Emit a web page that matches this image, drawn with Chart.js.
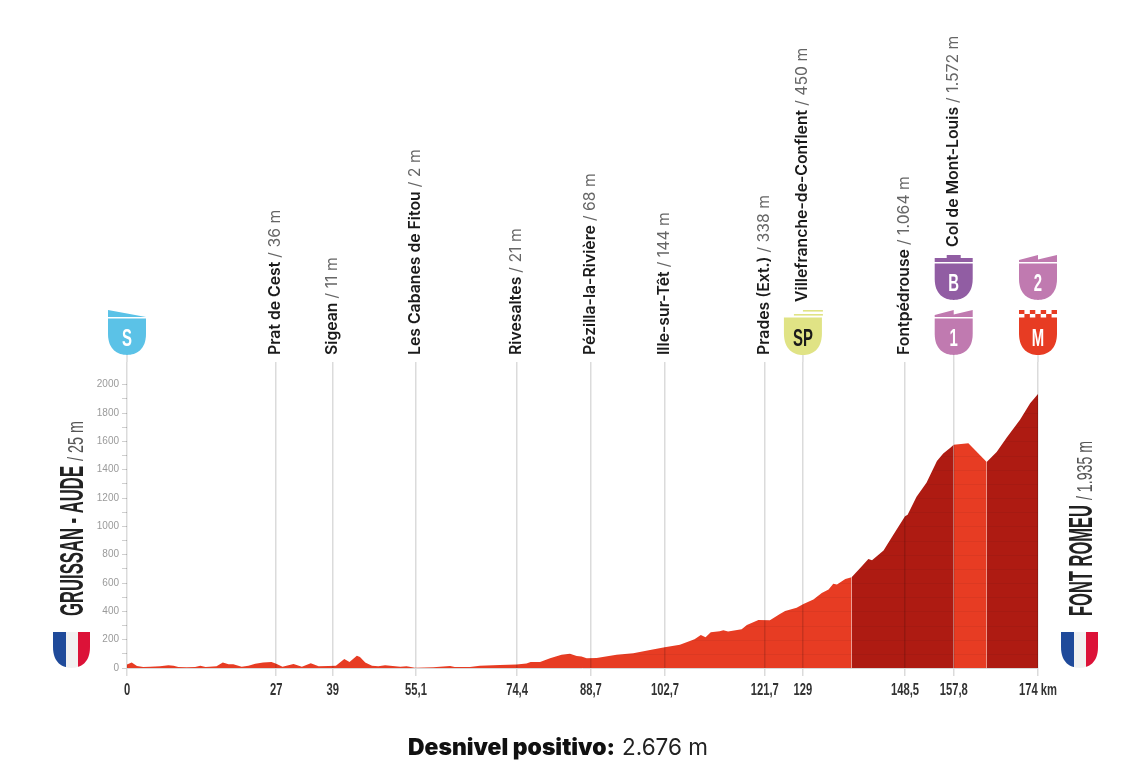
<!DOCTYPE html>
<html lang="es">
<head>
<meta charset="utf-8">
<title>Gruissan - Font Romeu</title>
<script src="https://cdn.jsdelivr.net/npm/chart.js@4/dist/chart.umd.min.js"></script>
<style>
  html, body { margin: 0; padding: 0; background: #fff; }
  canvas { display: block; }
</style>
</head>
<body>
<canvas id="perfil" width="1137" height="769"></canvas>
<script>
// profile
const profileKm = [0, 0.9, 1.9, 3.1, 4.4, 6.3, 7.9, 8.9, 9.8, 11.4, 13, 14, 15, 17.1, 18.3, 19.4, 20.3, 21.9, 23.2, 24.5, 26, 27.6, 28.5, 29.7, 31.8, 33.4, 35.1, 36.6, 38.5, 39.9, 41.5, 42.5, 43.9, 44.5, 45.5, 46.8, 48, 49.3, 52.2, 53.4, 55, 58.5, 61.7, 62.6, 65.5, 67.4, 71.2, 74.4, 76.3, 77.1, 78.9, 80.8, 83, 84.6, 85.9, 86.8, 87.8, 89.7, 93.5, 96.7, 99.9, 102.7, 105.6, 108.4, 109.6, 110.5, 111.5, 113.2, 113.9, 114.8, 117.4, 118.4, 120.6, 122.8, 124.7, 125.7, 127.9, 129.2, 131.1, 132.7, 134, 134.9, 135.6, 137.2, 138.4, 140, 141.6, 142.3, 144.5, 146.4, 148.6, 149.1, 150.8, 152.7, 154.7, 155.9, 157.2, 157.9, 160.7, 164.2, 166.1, 168, 170.6, 172.5, 174];
const profileM = [25, 38, 14, 7, 9, 12, 19, 16, 7, 5, 7, 16, 7, 12, 38, 26, 26, 9, 16, 30, 38, 42, 30, 9, 28, 9, 33, 12, 14, 16, 64, 42, 87, 78, 38, 16, 12, 19, 9, 12, 2, 5, 14, 7, 7, 16, 21, 24, 31, 42, 42, 68, 94, 101, 85, 82, 68, 71, 94, 104, 127, 146, 165, 203, 233, 217, 252, 259, 266, 257, 273, 304, 339, 337, 382, 403, 426, 452, 483, 530, 554, 594, 589, 629, 641, 704, 770, 761, 829, 942, 1072, 1081, 1209, 1308, 1461, 1515, 1553, 1576, 1586, 1454, 1524, 1626, 1755, 1868, 1935];

// km ranges painted dark
const darkFrom = [138.4, 164.2];
const darkTo = [157.9, 174];

const tickKm = [0, 28.5, 39.3, 55.2, 74.5, 88.6, 102.75, 121.8, 129.1, 148.6, 157.9, 174];
const tickLabels = ["0", "27", "39", "55,1", "74,4", "88,7", "102,7", "121,7", "129", "148,5", "157,8", "174 km"];
const altitudeTicks = [0, 100, 200, 300, 400, 500, 600, 700, 800, 900, 1000, 1100, 1200, 1300, 1400, 1500, 1600, 1700, 1800, 1900, 2000];

const placeKm = [28.5, 39.3, 55.2, 74.5, 88.6, 102.75, 121.8, 129.1, 148.6, 157.9];
const placeNames = ["Prat de Cest", "Sigean", "Les Cabanes de Fitou", "Rivesaltes", "Pézilla-la-Rivière", "Ille-sur-Têt", "Prades (Ext.)", "Villefranche-de-Conflent", "Fontpédrouse", "Col de Mont-Louis"];
const placeHeights = ["36 m", "11 m", "2 m", "21 m", "68 m", "144 m", "338 m", "450 m", "1.064 m", "1.572 m"];

const ROJO = "#e73c23";
const ROJO_OSCURO = "#ae1b12";
const LINEA = "rgba(0,0,0,0.14)";
const NARROW = '"Liberation Sans", sans-serif';
const TEXTO = 'Inter, "Liberation Sans", sans-serif';

function esOscuro(km) {
    return darkFrom.some((desde, i) => km >= desde && km < darkTo[i]);
}

/* =========================
   ESCUDOS
   ========================= */
function caminoEscudo(ctx, cx, top, bottom, ancho) {
    const l = cx - ancho / 2, r = cx + ancho / 2;
    const curva = top + (bottom - top) * 0.42;
    ctx.beginPath();
    ctx.moveTo(l, top);
    ctx.lineTo(r, top);
    ctx.lineTo(r, curva);
    ctx.bezierCurveTo(r, bottom - 5, cx + 9, bottom, cx, bottom);
    ctx.bezierCurveTo(cx - 9, bottom, l, bottom - 5, l, curva);
    ctx.closePath();
}

function polygon(ctx, pts, color) {
    ctx.fillStyle = color;
    ctx.beginPath();
    pts.forEach((p, i) => i ? ctx.lineTo(p[0], p[1]) : ctx.moveTo(p[0], p[1]));
    ctx.closePath();
    ctx.fill();
}

function letra(ctx, txt, cx, cy, color) {
    ctx.save();
    ctx.translate(cx, cy);
    ctx.scale(0.62, 1);
    ctx.font = "bold 24px " + NARROW;
    ctx.fillStyle = color;
    ctx.textAlign = "center";
    ctx.textBaseline = "middle";
    ctx.fillText(txt, 0, 1);
    ctx.restore();
}

function escudo(ctx, tipo, txt, cx, top, color, colorTxt) {
    const l = cx - 19, r = cx + 19;
    const cuerpo = top + 8.5;
    if (tipo === "salida") {
        polygon(ctx, [[l, top], [r, top + 7], [l, top + 7]], color);
    } else if (tipo === "puerto") {
        polygon(ctx, [[l, top + 7], [l, top + 5], [cx, top], [cx, top + 4.5], [r, top], [r, top + 7]], color);
    } else if (tipo === "bonus") {
        ctx.fillStyle = color;
        ctx.fillRect(l, top + 3, 38, 4);
        ctx.fillRect(cx - 7, top, 14, 3);
    } else if (tipo === "sprint") {
        ctx.fillStyle = color;
        ctx.fillRect(cx, top, 20, 1.6);
        ctx.fillRect(cx - 9, top + 4, 29, 1.6);
    } else if (tipo === "meta") {
        ctx.fillStyle = color;
        for (let i = 0; i < 7; i++) {
            ctx.fillRect(l + i * 38 / 7, i % 2 ? top + 4 : top, 38 / 7, 4);
        }
    }
    caminoEscudo(ctx, cx, tipo === "meta" || tipo === "sprint" ? top + 7.5 : cuerpo, top + 45, 38);
    ctx.fillStyle = color;
    ctx.fill();
    letra(ctx, txt, cx, top + 28, colorTxt);
}

function bandera(ctx, l) {
    ctx.save();
    caminoEscudo(ctx, l + 18.5, 632, 668, 37);
    ctx.clip();
    ctx.fillStyle = "#1f4a9a";
    ctx.fillRect(l, 632, 13, 36);
    ctx.fillStyle = "#f1f1f1";
    ctx.fillRect(l + 13, 632, 12, 36);
    ctx.fillStyle = "#dc1238";
    ctx.fillRect(l + 25, 632, 12, 36);
    ctx.restore();
}

// text squeezed to a given width, to get the condensed look of the original
function apretado(ctx, txt, x, y, ancho) {
    const w = ctx.measureText(txt).width;
    ctx.save();
    ctx.translate(x, y);
    ctx.scale(ancho / w, 1);
    ctx.fillText(txt, 0, 0);
    ctx.restore();
}

function nombreVertical(ctx, nombre, altura, x, y, anchoNombre, anchoAltura) {
    ctx.save();
    ctx.translate(x, y);
    ctx.rotate(-Math.PI / 2);
    ctx.textBaseline = "alphabetic";
    ctx.textAlign = "left";
    ctx.font = "bold 34px " + NARROW;
    ctx.fillStyle = "#222";
    apretado(ctx, nombre, 0, 0, anchoNombre);
    ctx.font = "22px " + NARROW;
    ctx.fillStyle = "#555";
    apretado(ctx, altura, anchoNombre + 5, 0, anchoAltura);
    ctx.restore();
}

/* =========================
   PLUGINS
   ========================= */
const rayasPlugin = {
    id: "rayas",
    afterDatasetsDraw(chart) {
        // faint altitude stripes, only where the profile already painted
        const { ctx, chartArea, scales } = chart;
        ctx.save();
        ctx.globalCompositeOperation = "source-atop";
        ctx.strokeStyle = "rgba(0,0,0,0.05)";
        ctx.lineWidth = 1;
        altitudeTicks.forEach(v => {
            const y = Math.round(scales.y.getPixelForValue(v)) + 0.5;
            ctx.beginPath();
            ctx.moveTo(chartArea.left, y);
            ctx.lineTo(chartArea.right, y);
            ctx.stroke();
        });
        ctx.restore();
    }
};

const rotulosPlugin = {
    id: "rotulos",
    afterDraw(chart) {
        const { ctx, scales, chartArea } = chart;
        const px = km => scales.x.getPixelForValue(km);

        // stems that join the badges to the grid lines
        ctx.save();
        ctx.strokeStyle = LINEA;
        ctx.lineWidth = 1.5;
        [0, 129.1, 157.9, 174].forEach(km => {
            ctx.beginPath();
            ctx.moveTo(px(km), 350);
            ctx.lineTo(px(km), chartArea.top);
            ctx.stroke();
        });
        ctx.restore();

        // km labels, condensed
        ctx.save();
        ctx.font = "bold 16.5px " + NARROW;
        ctx.fillStyle = "#333";
        ctx.textBaseline = "middle";
        ctx.textAlign = "left";
        tickLabels.forEach((txt, i) => {
            const w = ctx.measureText(txt).width * 0.68;
            apretado(ctx, txt, px(tickKm[i]) - w / 2, 690, w);
        });
        ctx.restore();

        // place names, rotated
        placeNames.forEach((nombre, i) => {
            let base = 355;
            if (nombre.startsWith("Villefranche")) base = 302;
            if (nombre.startsWith("Col de")) base = 247;
            ctx.save();
            ctx.translate(px(placeKm[i]) + 4, base);
            ctx.rotate(-Math.PI / 2);
            ctx.textBaseline = "alphabetic";
            ctx.textAlign = "left";
            ctx.font = "600 15.8px " + TEXTO;
            ctx.fillStyle = "#1a1a1a";
            ctx.fillText(nombre, 0, 0);
            const w = ctx.measureText(nombre).width;
            ctx.font = "400 15.8px " + TEXTO;
            ctx.fillStyle = "#666";
            ctx.fillText("/ " + placeHeights[i], w + 4, 0);
            ctx.restore();
        });

        escudo(ctx, "salida", "S", px(0), 310, "#5bc2e7", "#fff");
        escudo(ctx, "sprint", "SP", px(129.1), 310, "#e0e385", "#1a1a1a");
        escudo(ctx, "puerto", "1", px(157.9), 310, "#c07ab0", "#fff");
        escudo(ctx, "bonus", "B", px(157.9), 255, "#915da3", "#fff");
        escudo(ctx, "puerto", "2", px(174), 255, "#c07ab0", "#fff");
        escudo(ctx, "meta", "M", px(174), 310, ROJO, "#fff");

        bandera(ctx, 53);
        bandera(ctx, 1061);

        nombreVertical(ctx, "GRUISSAN - AUDE", "/ 25 m", 83, 616, 150, 40);
        nombreVertical(ctx, "FONT ROMEU", "/ 1.935 m", 1092, 616, 111, 59);

        // climbing total
        ctx.save();
        ctx.textBaseline = "alphabetic";
        ctx.textAlign = "left";
        ctx.font = "900 22.5px " + TEXTO;
        ctx.fillStyle = "#111";
        const rotulo = "Desnivel positivo:";
        apretado(ctx, rotulo, 408, 755, 207);
        ctx.font = "400 23px " + TEXTO;
        ctx.fillStyle = "#222";
        apretado(ctx, "2.676 m", 622, 755, 86);
        ctx.restore();
    }
};

/* =========================
   GRAFICO
   ========================= */
new Chart(document.getElementById("perfil").getContext("2d"), {
    type: "line",
    data: {
        datasets: [{
            label: "Altitud",
            data: profileKm.map((km, i) => ({ x: km, y: profileM[i] })),
            fill: "origin",
            backgroundColor: ROJO,
            borderWidth: 0,
            pointRadius: 0,
            tension: 0,
            segment: {
                backgroundColor: c => esOscuro(c.p0.parsed.x) ? ROJO_OSCURO : ROJO
            }
        }]
    },
    options: {
        responsive: false,
        animation: false,
        devicePixelRatio: 1,
        layout: { padding: { left: 87, right: 99, top: 362, bottom: 61 } },
        plugins: { legend: { display: false }, title: { display: false }, tooltip: { enabled: false } },
        scales: {
            x: {
                type: "linear",
                min: 0,
                max: 174,
                afterFit: s => { s.height = 40; },
                afterBuildTicks: s => { s.ticks = tickKm.map(v => ({ value: v })); },
                border: { display: true, color: "#d8d8d8", width: 1, z: 1 },
                grid: { z: 1, color: LINEA, lineWidth: 1.5, drawTicks: true, tickLength: 8 },
                ticks: { display: false, autoSkip: false }
            },
            y: {
                min: 0,
                max: 2160,
                afterFit: s => { s.width = 40; },
                afterBuildTicks: s => { s.ticks = altitudeTicks.map(v => ({ value: v })); },
                border: { display: false },
                grid: { drawOnChartArea: false, color: "#cfcfcf", drawTicks: true, tickLength: 5 },
                ticks: {
                    autoSkip: false,
                    padding: 3,
                    color: "#9a9a9a",
                    font: { family: '"Liberation Sans", sans-serif', size: 10 },
                    callback: v => v % 200 === 0 ? String(v) : ""
                }
            }
        }
    },
    plugins: [rayasPlugin, rotulosPlugin]
});
</script>
</body>
</html>
